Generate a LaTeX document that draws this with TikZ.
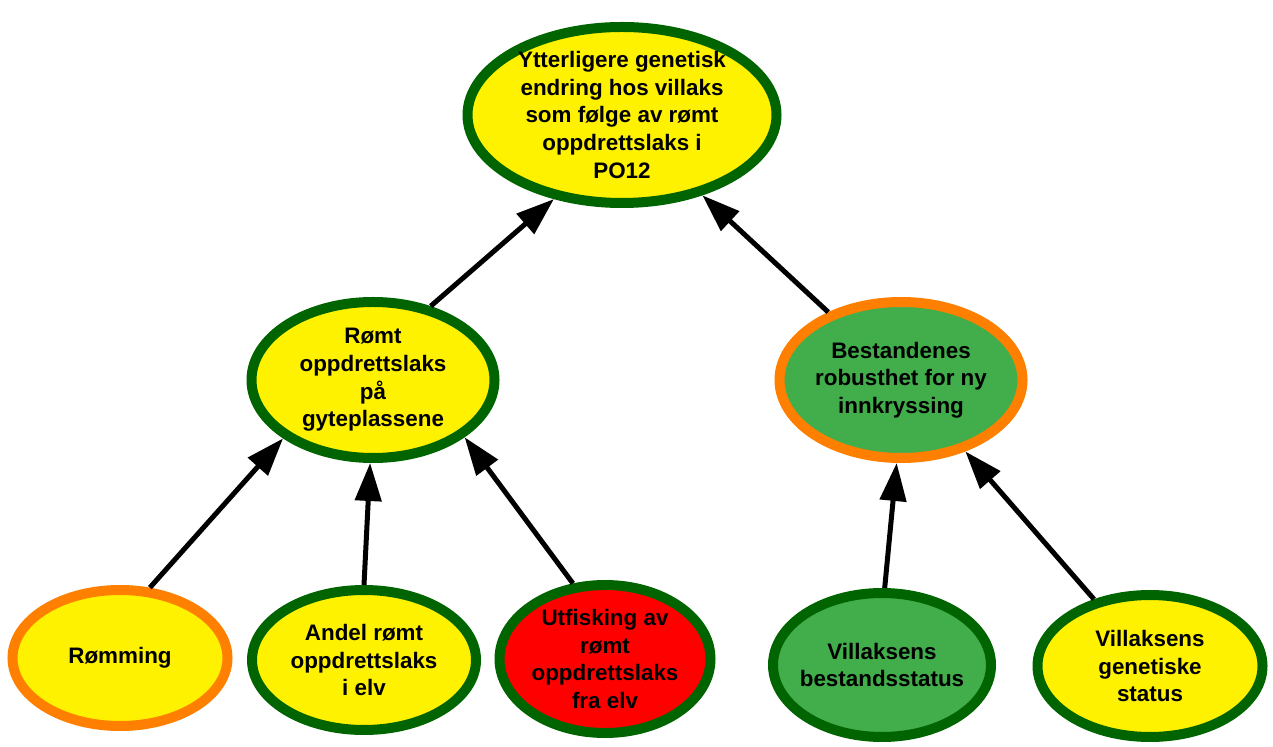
\documentclass[tikz,border=0pt]{standalone}
\usepackage{fontspec}
\setmainfont{Liberation Sans}
\usetikzlibrary{shapes.geometric,arrows.meta}
\definecolor{ringgreen}{RGB}{0,100,0}
\definecolor{ringorange}{RGB}{255,128,0}
\definecolor{fillyellow}{RGB}{255,242,0}
\definecolor{fillgreen}{RGB}{65,173,75}
\definecolor{fillred}{RGB}{255,0,0}

\begin{document}
\begin{tikzpicture}[x=0.5pt,y=-0.5pt,
    factor/.style={ellipse, draw=ringgreen, line width=5pt, fill=fillyellow,
      inner sep=-4pt, align=center, font=\bfseries\fontsize{11.2}{13.8}\selectfont},
    link/.style={line width=2.5pt, -{Triangle[length=19pt,width=13pt]}}]
    \useasboundingbox (0,0) rectangle (1273,747);
    \node[factor, minimum width=154.5pt, minimum height=88pt] (gen) at (622,115)
      {Ytterligere genetisk\\endring hos villaks\\som følge av rømt\\oppdrettslaks i\\PO12};
    \node[factor, minimum width=121.5pt, minimum height=78pt] (gyte) at (373,380)
      {Rømt\\oppdrettslaks\\på\\gyteplassene};
    \node[factor, draw=ringorange, fill=fillgreen, minimum width=121.5pt, minimum height=78pt] (robust) at (901,380)
      {Bestandenes\\robusthet for ny\\innkryssing};
    \node[factor, draw=ringorange, minimum width=107.5pt, minimum height=68pt] (romming) at (120,658)
      {Rømming};
    \node[factor, minimum width=112pt, minimum height=70pt] (andel) at (364,660)
      {Andel rømt\\oppdrettslaks\\i elv};
    \node[factor, fill=fillred, minimum width=105.5pt, minimum height=74pt] (utfisk) at (605,659)
      {Utfisking av\\rømt\\oppdrettslaks\\fra elv};
    \node[factor, fill=fillgreen, minimum width=109pt, minimum height=72pt] (status) at (882,665)
      {Villaksens\\bestandsstatus};
    \node[factor, minimum width=112.5pt, minimum height=71pt] (genstat) at (1150,666)
      {Villaksens\\genetiske\\status};
    \draw[link] (gyte.52) -- (gen.-129);
    \draw[link] (robust.137) -- (gen.-45);
    \draw[link] (romming.67) -- (gyte.-147);
    \draw[link] (andel.90) -- (gyte.-92);
    \draw[link] (utfisk.113) -- (gyte.-32);
    \draw[link] (status.88) -- (robust.-93);
    \draw[link] (genstat.130) -- (robust.-48);
  \end{tikzpicture}
\end{document}
